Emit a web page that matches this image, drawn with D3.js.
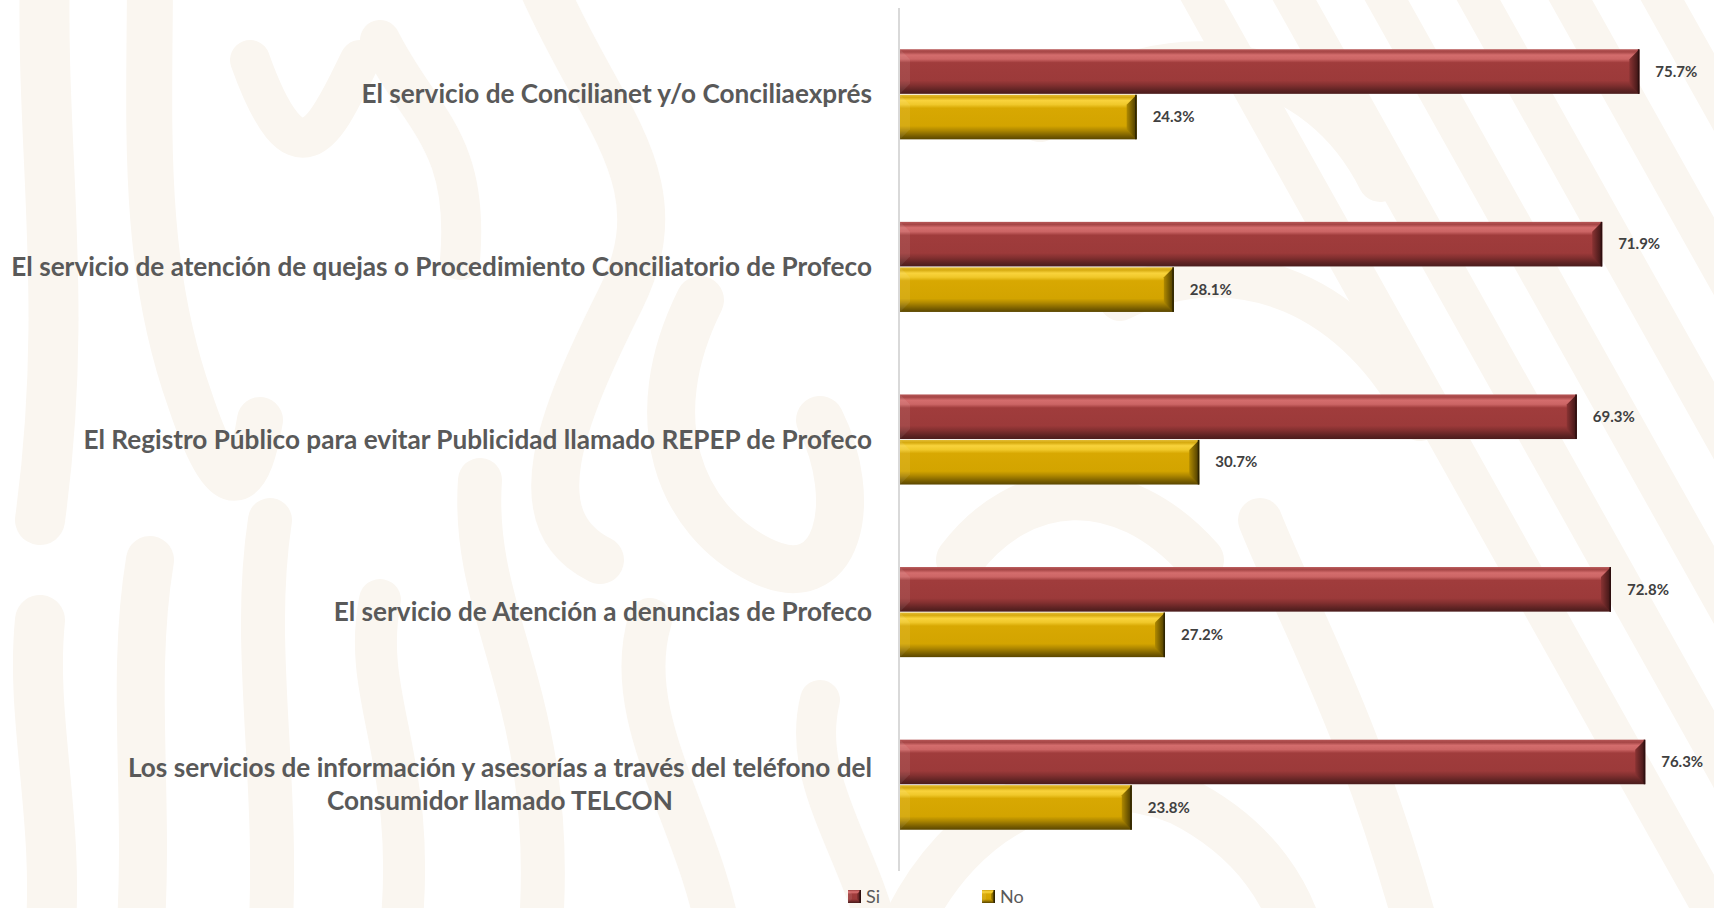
<!DOCTYPE html>
<html>
<head>
<meta charset="utf-8">
<script src="https://cdn.jsdelivr.net/npm/d3@7"></script>
<style>
html, body { margin: 0; padding: 0; background: #fff; overflow: hidden; }
#chart { width: 1714px; height: 908px; }
text { font-family: Lato, "Open Sans", sans-serif; }
</style>
</head>
<body>
<div id="chart"></div>
<script>
// categories (top to bottom), "\n" marks a line break in the label
const categories = [
    'El servicio de Concilianet y/o Conciliaexprés',
    'El servicio de atención de quejas o Procedimiento Conciliatorio de Profeco',
    'El Registro Público para evitar Publicidad llamado REPEP de Profeco',
    'El servicio de Atención a denuncias de Profeco',
    'Los servicios de información y asesorías a través del teléfono del\nConsumidor llamado TELCON'
];
const seriesNames = ['Si', 'No'];
const siValues = [75.7, 71.9, 69.3, 72.8, 76.3];
const noValues = [24.3, 28.1, 30.7, 27.2, 23.8];

const width = 1714, height = 908;
const margin = {top: 8, bottom: 37, axisX: 899, labelRight: 872, labelWidth: 861};
const bevel = 10;

const chartData = categories.map((c, i) => ({
    category: c,
    values: [
        {series: 'Si', value: siValues[i]},
        {series: 'No', value: noValues[i]}
    ]
}));

const svg = d3.select('#chart').append('svg')
    .attr('width', width)
    .attr('height', height)
    .attr('viewBox', [0, 0, width, height]);

const defs = svg.append('defs');

// vertical shading of the bevelled bars (Excel "angle" bevel look)
const shades = {
    Si: {
        stops: [[0, '#b65656'], [0.06, '#a64646'], [0.13, '#d46d6d'], [0.22, '#cc6565'],
                [0.3, '#a03c3c'], [0.7, '#9c3a3a'], [0.8, '#833030'], [0.92, '#5e2323'], [1, '#4a1c1c']],
        side: ['#8a3333', '#3a1414'],
        edge: '#2e0f0f'
    },
    No: {
        stops: [[0, '#e2bb34'], [0.06, '#d6aa10'], [0.13, '#f9d33c'], [0.22, '#f0c82a'],
                [0.3, '#d8a802'], [0.7, '#d3a400'], [0.8, '#ae8700'], [0.92, '#7a5f00'], [1, '#5a4600']],
        side: ['#b08a00', '#463700'],
        edge: '#2e2400'
    }
};

seriesNames.forEach(s => {
    defs.append('linearGradient')
        .attr('id', `body-${s}`)
        .attr('x1', 0).attr('y1', 0).attr('x2', 0).attr('y2', 1)
        .selectAll('stop')
        .data(shades[s].stops)
        .join('stop')
        .attr('offset', d => d[0])
        .attr('stop-color', d => d[1]);
    defs.append('linearGradient')
        .attr('id', `side-${s}`)
        .attr('x1', 0).attr('y1', 0).attr('x2', 1).attr('y2', 0)
        .selectAll('stop')
        .data(shades[s].side)
        .join('stop')
        .attr('offset', (d, i) => i)
        .attr('stop-color', d => d);
});

// faint background pattern
const bg = svg.append('g')
    .attr('fill', 'none')
    .attr('stroke', '#faf6f0')
    .attr('stroke-linecap', 'round');

const bgStrokes = [
    ['M45,-30 C40,150 70,300 40,520', 50],
    ['M150,-30 C150,120 140,260 190,400 C230,520 250,480 260,420', 46],
    ['M250,60 C300,200 330,120 360,60', 40],
    ['M540,-20 C600,120 680,180 620,300 C560,420 520,520 600,560', 48],
    ['M380,40 C420,120 470,140 460,260', 40],
    ['M40,620 C30,720 60,820 50,940', 50],
    ['M150,560 C130,680 150,800 140,940', 48],
    ['M270,520 C250,650 280,780 270,940', 44],
    ['M380,600 C360,700 420,760 400,940', 42],
    ['M480,480 C470,620 560,700 540,940', 44],
    ['M700,300 C640,420 680,520 760,560 C840,600 860,500 820,420', 48],
    ['M650,620 C620,720 700,820 720,940', 44],
    ['M820,700 C800,780 860,850 880,940', 40],
    ['M1040,120 C1180,20 1320,60 1380,180', 44],
    ['M960,560 C1020,480 1120,470 1200,560', 48],
    ['M900,940 C960,800 1080,760 1180,800 C1260,840 1290,900 1300,940', 50],
    ['M1260,520 C1300,620 1360,720 1420,940', 44],
    ['M1120,300 C1240,240 1360,300 1420,420', 42]
];
bg.selectAll('path.curve')
    .data(bgStrokes)
    .join('path')
    .attr('class', 'curve')
    .attr('d', d => d[0])
    .attr('stroke-width', d => d[1]);

const stripeStarts = d3.range(1180, 2000, 92);
bg.selectAll('line.stripe')
    .data(stripeStarts)
    .join('line')
    .attr('class', 'stripe')
    .attr('x1', d => d).attr('y1', -40)
    .attr('x2', d => d + 560).attr('y2', 960)
    .attr('stroke-width', 38);

// scales
const y = d3.scaleBand()
    .domain(categories)
    .range([margin.top, height - margin.bottom])
    .paddingInner(0.478)
    .paddingOuter(0.239);
const ySub = d3.scaleBand()
    .domain(seriesNames)
    .range([0, y.bandwidth()])
    .paddingInner(0.02);
const x = d3.scaleLinear()
    .domain([0, 100])
    .range([margin.axisX, margin.axisX + 978]);

// vertical category axis line
svg.append('line')
    .attr('x1', x(0)).attr('x2', x(0))
    .attr('y1', margin.top).attr('y2', height - margin.bottom)
    .attr('stroke', '#d9d9d9')
    .attr('stroke-width', 2);

// bevelled box: body, light left face, dark right face, dark right edge
function drawBevel(sel, w, h, b) {
    sel.append('rect')
        .attr('width', w)
        .attr('height', h)
        .attr('fill', d => `url(#body-${d.series})`);
    sel.append('polygon')
        .attr('points', d => [[0, 0], [b, b], [b, h(d) - b], [0, h(d)]].join(' '))
        .attr('fill', '#fff')
        .attr('fill-opacity', 0.08);
    sel.append('polygon')
        .attr('points', d => [[w(d), 0], [w(d) - b, b], [w(d) - b, h(d) - b], [w(d), h(d)]].join(' '))
        .attr('fill', d => `url(#side-${d.series})`);
    sel.append('line')
        .attr('x1', d => w(d) - 0.75).attr('x2', d => w(d) - 0.75)
        .attr('y1', 0).attr('y2', h)
        .attr('stroke', d => shades[d.series].edge)
        .attr('stroke-width', 1.5);
}

// bars
const groups = svg.append('g')
    .selectAll('g.cat')
    .data(chartData)
    .join('g')
    .attr('class', 'cat')
    .attr('transform', d => `translate(0,${y(d.category)})`);

const bars = groups.selectAll('g.bar')
    .data(d => d.values)
    .join('g')
    .attr('class', 'bar')
    .attr('transform', d => `translate(${x(0) + 1},${ySub(d.series)})`);

const barW = d => x(d.value) - x(0) - 1;
const barH = () => ySub.bandwidth();
drawBevel(bars, barW, barH, bevel);

// value labels
bars.append('text')
    .attr('x', d => barW(d) + 16)
    .attr('y', ySub.bandwidth() / 2)
    .attr('dy', '0.35em')
    .attr('fill', '#404040')
    .attr('font-size', 15)
    .attr('font-weight', 700)
    .text(d => d.value.toFixed(1) + '%');

// category labels: size the font so the longest line matches the reference width
const probe = svg.append('text')
    .attr('font-size', 20)
    .attr('font-weight', 700)
    .text(categories[1]);
const labelSize = 20 * margin.labelWidth / probe.node().getComputedTextLength();
probe.remove();
const lineHeight = 33;

const labels = svg.append('g')
    .selectAll('text')
    .data(categories)
    .join('text')
    .attr('font-size', labelSize)
    .attr('font-weight', 700)
    .attr('fill', '#595959')
    .attr('text-anchor', 'middle');

labels.each(function (d) {
    const t = d3.select(this);
    const lines = d.split('\n');
    const cy = y(d) + y.bandwidth() / 2;
    lines.forEach((line, i) => {
        t.append('tspan')
            .attr('y', cy + (i - (lines.length - 1) / 2) * lineHeight)
            .attr('dy', '0.35em')
            .text(line);
    });
    const w = d3.max(t.selectAll('tspan').nodes(), n => n.getComputedTextLength());
    t.selectAll('tspan').attr('x', margin.labelRight - w / 2);
});

// legend
const legend = svg.append('g')
    .selectAll('g')
    .data(seriesNames.map(s => ({series: s})))
    .join('g')
    .attr('transform', (d, i) => `translate(${848 + i * 134},890)`);
drawBevel(legend, () => 13, () => 13, 4);
legend.append('text')
    .attr('x', 18)
    .attr('y', 7)
    .attr('dy', '0.35em')
    .attr('fill', '#595959')
    .attr('font-size', 18)
    .text(d => d.series);
</script>
</body>
</html>
